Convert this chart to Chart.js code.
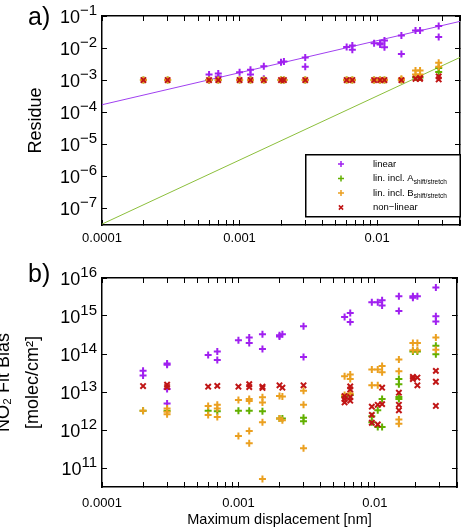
<!DOCTYPE html>
<html>
<head>
<meta charset="utf-8">
<script src="https://cdn.jsdelivr.net/npm/chart.js@4.4.0/dist/chart.umd.min.js"></script>
<style>
    body { margin: 0; background: #fff; }
    #wrap { position: relative; width: 471px; height: 529px; background: #fff; overflow: hidden; font-family: "Liberation Sans", Arial, sans-serif; }
    canvas { position: absolute; left: 0; }
    .panel { position: absolute; left: 28px; font-size: 25px; line-height: 1; color: #000; }
</style>
</head>
<body>
<div id="wrap">
    <canvas id="residueChart" width="471" height="262" style="top:0"></canvas>
    <canvas id="biasChart" width="471" height="267" style="top:262px"></canvas>
    <div class="panel" style="top:4px">a)</div>
    <div class="panel" style="top:261px">b)</div>
</div>
<script>
// Desplazamiento máximo [nm] (eje x, compartido)
const displacement = [0.0002, 0.0003, 0.0006, 0.0007, 0.001, 0.0012, 0.0015, 0.002, 0.0021, 0.003,
                      0.006, 0.0066, 0.0095, 0.0105, 0.0113, 0.015, 0.019, 0.0205, 0.028];

// a) Residue, valores por desplazamiento
const residueLinear = [[], [], [1.5e-3, 1.0e-3], [1.6e-3, 1.3e-3], [1.75e-3], [2.1e-3, 1.5e-3], [2.7e-3, 1.1e-3],
    [3.6e-3], [3.8e-3], [5.1e-3, 2.6e-3], [1.07e-2], [1.2e-2, 8.9e-3], [1.42e-2], [1.4e-2, 1.3e-2],
    [1.72e-2, 1.05e-2], [2.46e-2, 6.5e-3], [3.5e-2], [3.5e-2], [4.9e-2, 2.2e-2]];
const residueShiftA = [[1e-3], [1e-3], [1e-3], [1e-3], [1e-3], [1e-3], [1e-3], [1e-3], [1e-3], [1e-3],
    [1e-3], [1e-3], [1e-3], [1e-3], [1e-3], [1e-3], [1.2e-3], [1.2e-3], [2.4e-3, 1.8e-3]];
const residueShiftB = [[1e-3], [1e-3], [1e-3], [1e-3], [1e-3], [1e-3], [1e-3], [1e-3], [1e-3], [1e-3],
    [1e-3], [1e-3], [1e-3], [1e-3], [1e-3], [1.1e-3, 1e-3], [2.0e-3, 1.5e-3], [2.0e-3, 1.5e-3], [3.5e-3, 2.6e-3]];
const residueNonLinear = [[1e-3], [1e-3], [1e-3], [1e-3], [1e-3], [1e-3], [1e-3], [1e-3], [1e-3], [1e-3],
    [1e-3], [1e-3], [1e-3], [1e-3], [1e-3], [1e-3], [1.1e-3], [1.15e-3, 1.1e-3], [1.3e-3, 1.05e-3]];

// Rectas de ajuste en a)
const fitX = [0.0001, 0.04];
const fitLinear = [1.7e-4, 6.8e-2];
const fitQuadratic = [3.2e-8, 5.1e-3];

// b) NO2 Fit Bias [molec/cm2]
const biasLinear = [[3.6e13, 2.7e13], [5.6e13, 5.2e13, 1.2e13, 5e12], [9.4e13], [1.17e14, 6.9e13], [2.3e14],
    [2.7e14, 1.95e14], [3.3e14, 1.35e14], [3.1e14, 2.9e14], [3.3e14], [5.4e14, 8.3e13], [9.4e14],
    [1.2e15, 6.9e14], [2.3e15], [2.3e15], [2.6e15, 1.9e15], [3.3e15, 1.35e15], [3.3e15, 3.0e15], [3.3e15],
    [5.6e15, 9.8e14, 7.2e14]];
const biasShiftA = [[3.2e12], [3.2e12], [3.2e12], [3.1e12], [3.2e12], [3.2e12], [3.1e12], [2.0e12], [2.0e12],
    [2.1e12, 1.7e12], [7.5e12], [8.3e12], [2.3e12, 1.6e12], [3.3e12, 1.2e12], [6.5e12, 1.2e12],
    [2.2e13, 1.6e13, 7.4e12, 6.5e12], [1.17e14], [1.17e14], [1.65e14, 9.8e13]];
const biasShiftB = [[3.2e12], [3.7e12, 3.0e12, 2.6e12], [4.3e12, 2.5e12], [4.6e12, 3.7e12, 2.2e12], [6.2e12, 6.9e11],
    [6.5e12, 5.8e12, 9.4e11, 4.5e11], [7.3e12, 5.3e12, 1.6e12, 5.1e10], [7.8e12, 2.0e12], [7.6e12, 1.8e12],
    [1.08e13, 4.6e12, 3.3e11], [2.6e13, 8.3e12], [2.9e13, 2.2e13, 9.1e12], [3.9e13, 1.5e13], [3.9e13, 1.5e13],
    [4.8e13, 3.3e13], [7.2e13, 3.5e13, 1.9e12, 1.45e12], [1.95e14, 1.25e14], [1.95e14, 1.25e14], [2.7e14, 1.3e14]];
const biasNonLinear = [[1.43e13], [1.55e13, 1.35e13], [1.38e13], [1.45e13], [1.38e13], [1.6e13, 1.35e13],
    [1.38e13, 1.28e13], [1.5e13], [1.3e13], [1.5e13], [7.8e12, 6.5e12, 5.3e12], [1.4e13, 1.17e13, 7.3e12, 5.9e12],
    [4.1e12, 2.5e12, 1.55e12], [4.6e12, 1.4e12], [1.3e13, 4.8e12], [9.6e12, 4.6e12, 3.3e12], [2.5e13, 2.2e13],
    [2.4e13, 1.5e13], [3.6e13, 1.86e13, 4.3e12]];

// Ticks
const xDecades = [0.0001, 0.001, 0.01];
const residueTicks = [1e-7, 1e-6, 1e-5, 1e-4, 1e-3, 1e-2, 1e-1];
const biasTicks = [1e11, 1e12, 1e13, 1e14, 1e15, 1e16];

const FAM = '"Liberation Sans", Arial, sans-serif';
const COLORS = { linear: '#a020f0', shiftA: '#62b000', shiftB: '#eba020', nonLinear: '#c01515',
                 fitLinear: '#a040f0', fitQuad: '#8cbf3c' };

Chart.defaults.font.family = FAM;
Chart.defaults.color = '#000';

const xMin = 0.0001, xMax = 0.04;
const xTickValues = [];
xDecades.forEach(d => { for (let m = 1; m <= 9; m++) { if (m * d <= xMax * 1.0001) xTickValues.push(m * d); } });

function toPoints(series) {
    return displacement.flatMap((x, i) => series[i].map(y => ({ x, y })));
}

function esDecada(v) {
    const l = Math.log10(v);
    return Math.abs(l - Math.round(l)) < 1e-6;
}

function gridInterno() {
    return { drawOnChartArea: false, drawTicks: true, tickLength: -5, color: '#000', tickColor: '#000', tickWidth: 1 };
}
const borde = { display: true, color: '#000', width: 1.5 };

// Etiquetas 10^n del eje y con exponente elevado
const expLabels = {
    id: 'expLabels',
    afterDraw(chart) {
        const s = chart.scales.y;
        const ctx = chart.ctx;
        ctx.save();
        ctx.fillStyle = '#000';
        ctx.textAlign = 'left';
        ctx.textBaseline = 'alphabetic';
        s.ticks.forEach(t => {
            const e = Math.round(Math.log10(t.value));
            const sup = (e < 0 ? '\u2212' : '') + Math.abs(e);
            const y = s.getPixelForValue(t.value);
            const right = s.right - 5;
            ctx.font = '15px ' + FAM;
            const wSup = ctx.measureText(sup).width;
            ctx.fillText(sup, right - wSup, y - 1);
            ctx.font = '18px ' + FAM;
            const wBase = ctx.measureText('10').width;
            ctx.fillText('10', right - wSup - wBase, y + 6.5);
        });
        ctx.restore();
    }
};

// Leyenda con subíndices dentro del gráfico a)
const boxLegend = {
    id: 'boxLegend',
    afterDraw(chart) {
        const ctx = chart.ctx;
        const items = chart.data.datasets.filter(d => !d.showLine);
        ctx.save();
        ctx.fillStyle = '#fff';
        ctx.fillRect(305, 154, 155, 63);
        ctx.lineWidth = 1.5;
        ctx.strokeStyle = '#000';
        ctx.strokeRect(305.75, 154.75, 154.5, 62);
        items.forEach((d, i) => {
            const y = 164 + i * 14.5;
            ctx.strokeStyle = d.borderColor;
            ctx.fillStyle = d.borderColor;
            ctx.lineWidth = 1.5;
            Chart.helpers.drawPoint(ctx, { pointStyle: d.pointStyle, radius: 3, borderWidth: 1.5, rotation: 0 }, 341, y);
            ctx.fillStyle = '#000';
            ctx.textBaseline = 'middle';
            ctx.font = '9.5px ' + FAM;
            ctx.fillText(d.label, 373, y);
            if (d.sub) {
                const w = ctx.measureText(d.label).width;
                ctx.font = '6.5px ' + FAM;
                ctx.fillText(d.sub, 373 + w, y + 3.5);
            }
        });
        ctx.restore();
    }
};

function puntos(label, data, color, style, order, sub) {
    return { label, sub, data, showLine: false, pointStyle: style, pointRadius: style === 'crossRot' ? 3.8 : 3.5,
             pointBorderWidth: 2, borderColor: color, backgroundColor: color, order };
}

function crearGrafico(id, datasets, cfg) {
    const ctx = document.getElementById(id).getContext('2d');
    return new Chart(ctx, {
        type: 'scatter',
        data: { datasets },
        options: {
            responsive: false,
            animation: false,
            events: [],
            layout: { padding: { left: 0, right: 1, top: 16, bottom: 0 } },
            plugins: { legend: { display: false }, tooltip: { enabled: false } },
            scales: {
                x: {
                    type: 'logarithmic', position: 'bottom', min: xMin, max: xMax,
                    afterBuildTicks: s => { s.ticks = xTickValues.map(v => ({ value: v })); },
                    afterFit: s => { s.height = cfg.xHeight; },
                    ticks: { autoSkip: false, maxRotation: 0, minRotation: 0, padding: cfg.xPad, color: '#000',
                             font: { size: 13 },
                             callback: v => esDecada(v) ? v.toFixed(Math.round(-Math.log10(v))) : '' },
                    grid: gridInterno(), border: borde,
                    title: cfg.xTitle ? { display: true, text: cfg.xTitle, color: '#000', font: { size: 14.5 },
                                          padding: { top: 0, bottom: 0 } } : { display: false }
                },
                xTop: {
                    type: 'logarithmic', position: 'top', min: xMin, max: xMax,
                    afterBuildTicks: s => { s.ticks = xTickValues.map(v => ({ value: v })); },
                    afterFit: s => { s.height = 0; },
                    ticks: { display: false }, grid: gridInterno(), border: borde
                },
                y: {
                    type: 'logarithmic', position: 'left', min: cfg.yMin, max: cfg.yMax,
                    afterBuildTicks: s => { s.ticks = cfg.yTicks.map(v => ({ value: v })); },
                    afterFit: s => { s.width = 102; },
                    ticks: { display: false }, grid: gridInterno(), border: borde,
                    title: { display: true, text: cfg.yTitle, color: '#000',
                             font: { size: 18, lineHeight: cfg.yLine }, padding: { top: cfg.yTitlePad, bottom: 0 } }
                },
                yRight: {
                    type: 'logarithmic', position: 'right', min: cfg.yMin, max: cfg.yMax,
                    afterBuildTicks: s => { s.ticks = cfg.yTicks.map(v => ({ value: v })); },
                    afterFit: s => { s.width = 0; },
                    ticks: { display: false }, grid: gridInterno(), border: borde
                }
            }
        },
        plugins: cfg.plugins
    });
}

crearGrafico('residueChart', [
    puntos('linear', toPoints(residueLinear), COLORS.linear, 'cross', 3),
    puntos('lin. incl. A', toPoints(residueShiftA), COLORS.shiftA, 'cross', 2, 'shift/stretch'),
    puntos('lin. incl. B', toPoints(residueShiftB), COLORS.shiftB, 'cross', 1, 'shift/stretch'),
    puntos('non\u2212linear', toPoints(residueNonLinear), COLORS.nonLinear, 'crossRot', 0),
    { label: 'fit linear', data: fitX.map((x, i) => ({ x, y: fitLinear[i] })), showLine: true, pointRadius: 0,
      borderColor: COLORS.fitLinear, borderWidth: 1, order: 4 },
    { label: 'fit quadratic', data: fitX.map((x, i) => ({ x, y: fitQuadratic[i] })), showLine: true, pointRadius: 0,
      borderColor: COLORS.fitQuad, borderWidth: 1, order: 5 }
], {
    yMin: 3.2e-8, yMax: 1e-1, yTicks: residueTicks, yTitle: 'Residue', yLine: 1.2, yTitlePad: 25,
    xHeight: 37, xPad: 11, xTitle: null, plugins: [expLabels, boxLegend]
});

crearGrafico('biasChart', [
    puntos('linear', toPoints(biasLinear), COLORS.linear, 'cross', 3),
    puntos('lin. incl. A', toPoints(biasShiftA), COLORS.shiftA, 'cross', 2, 'shift/stretch'),
    puntos('lin. incl. B', toPoints(biasShiftB), COLORS.shiftB, 'cross', 1, 'shift/stretch'),
    puntos('non\u2212linear', toPoints(biasNonLinear), COLORS.nonLinear, 'crossRot', 0)
], {
    yMin: Math.pow(10, 10.5), yMax: 1e16, yTicks: biasTicks, yTitle: ['NO\u2082 Fit Bias', '[molec/cm\u00b2]'],
    yLine: '29px', yTitlePad: -10,
    xHeight: 42, xPad: 14, xTitle: 'Maximum displacement [nm]', plugins: [expLabels]
});
</script>
</body>
</html>
